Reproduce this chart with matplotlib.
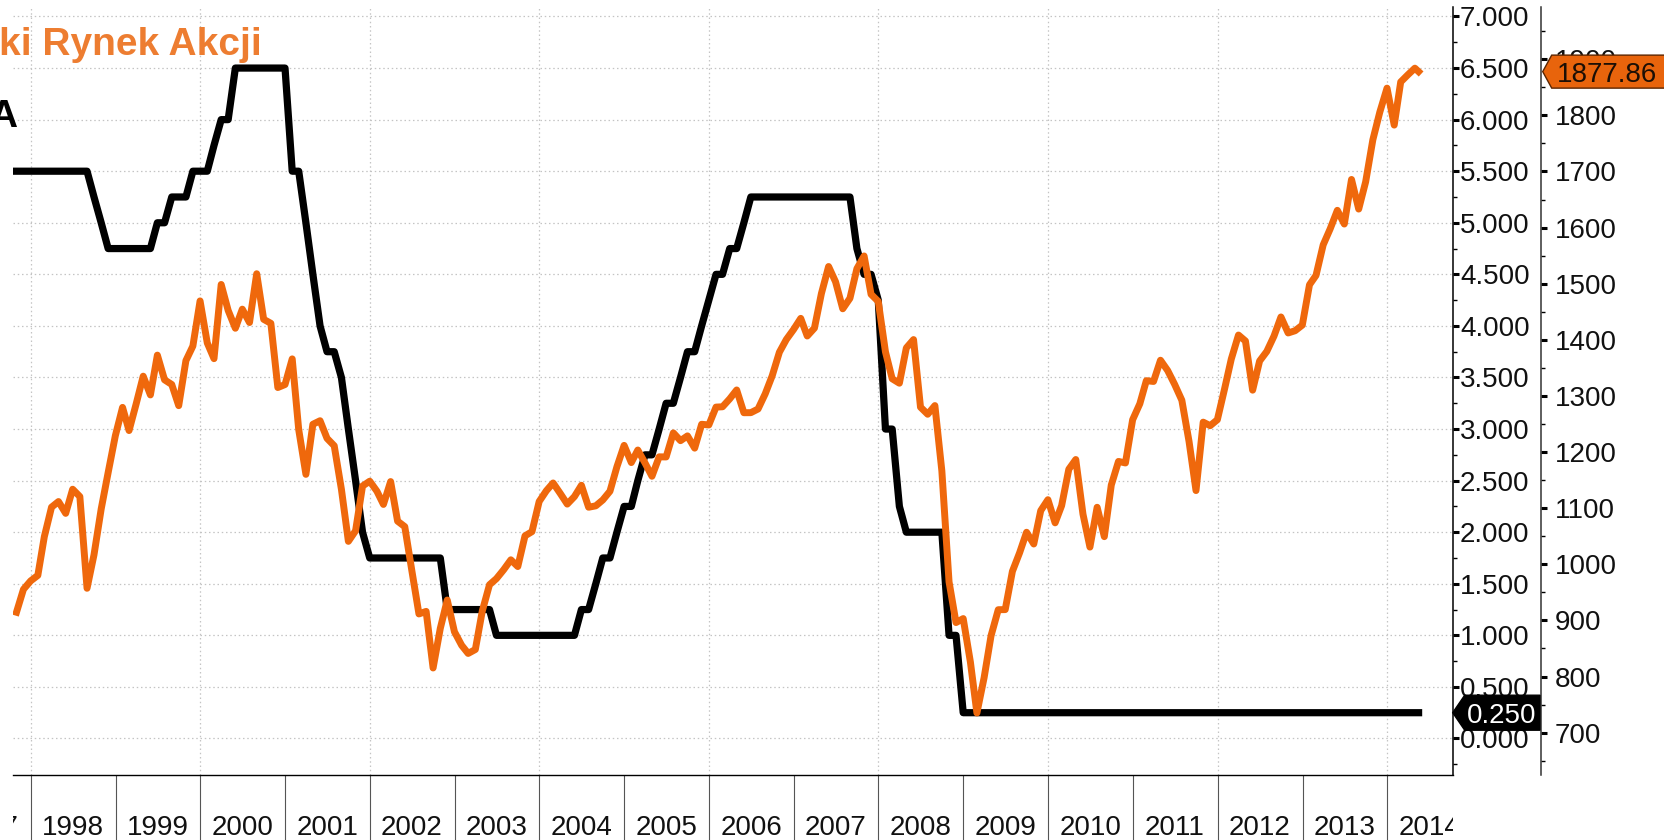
import numpy as np
import pandas as pd
import matplotlib
matplotlib.use("Agg")
import matplotlib.pyplot as plt
import matplotlib.dates as mdates
import matplotlib.transforms as mtransforms
from matplotlib.patches import Polygon

# --- dane miesięczne (koniec miesiąca), ostatni punkt: połowa maja 2014 ---
months = list(pd.date_range("1997-10-01", "2014-04-01", freq="MS") + pd.offsets.MonthEnd(0))
dates = months + [pd.Timestamp("2014-05-16")]

# stopa FED (górna granica celu), lewa oś
fed_rate = [
    5.5, 5.5, 5.5,                                                   # 1997 X-XII
    5.5, 5.5, 5.5, 5.5, 5.5, 5.5, 5.5, 5.5, 5.25, 5.0, 4.75, 4.75,   # 1998
    4.75, 4.75, 4.75, 4.75, 4.75, 5.0, 5.0, 5.25, 5.25, 5.25, 5.5, 5.5,  # 1999
    5.5, 5.75, 6.0, 6.0, 6.5, 6.5, 6.5, 6.5, 6.5, 6.5, 6.5, 6.5,     # 2000
    5.5, 5.5, 5.0, 4.5, 4.0, 3.75, 3.75, 3.5, 3.0, 2.5, 2.0, 1.75,   # 2001
    1.75, 1.75, 1.75, 1.75, 1.75, 1.75, 1.75, 1.75, 1.75, 1.75, 1.25, 1.25,  # 2002
    1.25, 1.25, 1.25, 1.25, 1.25, 1.0, 1.0, 1.0, 1.0, 1.0, 1.0, 1.0,  # 2003
    1.0, 1.0, 1.0, 1.0, 1.0, 1.25, 1.25, 1.5, 1.75, 1.75, 2.0, 2.25,  # 2004
    2.25, 2.5, 2.75, 2.75, 3.0, 3.25, 3.25, 3.5, 3.75, 3.75, 4.0, 4.25,  # 2005
    4.5, 4.5, 4.75, 4.75, 5.0, 5.25, 5.25, 5.25, 5.25, 5.25, 5.25, 5.25,  # 2006
    5.25, 5.25, 5.25, 5.25, 5.25, 5.25, 5.25, 5.25, 4.75, 4.5, 4.5, 4.25,  # 2007
    3.0, 3.0, 2.25, 2.0, 2.0, 2.0, 2.0, 2.0, 2.0, 1.0, 1.0, 0.25,    # 2008
    0.25, 0.25, 0.25, 0.25, 0.25, 0.25, 0.25, 0.25, 0.25, 0.25, 0.25, 0.25,  # 2009
    0.25, 0.25, 0.25, 0.25, 0.25, 0.25, 0.25, 0.25, 0.25, 0.25, 0.25, 0.25,  # 2010
    0.25, 0.25, 0.25, 0.25, 0.25, 0.25, 0.25, 0.25, 0.25, 0.25, 0.25, 0.25,  # 2011
    0.25, 0.25, 0.25, 0.25, 0.25, 0.25, 0.25, 0.25, 0.25, 0.25, 0.25, 0.25,  # 2012
    0.25, 0.25, 0.25, 0.25, 0.25, 0.25, 0.25, 0.25, 0.25, 0.25, 0.25, 0.25,  # 2013
    0.25, 0.25, 0.25, 0.25, 0.25,                                    # 2014
]

# S&P 500, prawa oś
spx = [
    914.6, 955.4, 970.4,
    980.3, 1049.3, 1101.8, 1111.8, 1090.8, 1133.8, 1120.7, 957.3, 1017.0, 1098.7, 1163.6, 1229.2,
    1279.6, 1238.3, 1286.4, 1335.2, 1301.8, 1372.7, 1328.7, 1320.4, 1282.7, 1362.9, 1388.9, 1469.3,
    1394.5, 1366.4, 1498.6, 1452.4, 1420.6, 1454.6, 1430.8, 1517.7, 1436.5, 1429.4, 1315.0, 1320.3,
    1366.0, 1239.9, 1160.3, 1249.5, 1255.8, 1224.4, 1211.2, 1133.6, 1040.9, 1059.8, 1139.5, 1148.1,
    1130.2, 1106.7, 1147.4, 1076.9, 1067.1, 989.8, 911.6, 916.1, 815.3, 885.8, 936.3, 879.8,
    855.7, 841.2, 848.2, 916.9, 963.6, 974.5, 990.3, 1008.0, 996.0, 1050.7, 1058.2, 1111.9,
    1131.1, 1144.9, 1126.2, 1107.3, 1120.7, 1140.8, 1101.7, 1104.2, 1114.6, 1130.2, 1173.8, 1211.9,
    1181.3, 1203.6, 1180.6, 1156.9, 1191.5, 1191.3, 1234.2, 1220.3, 1228.8, 1207.0, 1249.5, 1248.3,
    1280.1, 1280.7, 1294.8, 1310.6, 1270.1, 1270.2, 1276.7, 1303.8, 1335.9, 1377.9, 1400.6, 1418.3,
    1438.2, 1406.8, 1420.9, 1482.4, 1530.6, 1503.4, 1455.3, 1474.0, 1526.8, 1549.4, 1481.1, 1468.4,
    1378.6, 1330.6, 1322.7, 1385.6, 1400.4, 1280.0, 1267.4, 1282.8, 1166.4, 968.8, 896.2, 903.3,
    825.9, 735.1, 797.9, 872.8, 919.1, 919.3, 987.5, 1020.6, 1057.1, 1036.2, 1095.6, 1115.1,
    1073.9, 1104.5, 1169.4, 1186.7, 1089.4, 1030.7, 1101.6, 1049.3, 1141.2, 1183.3, 1180.6, 1257.6,
    1286.1, 1327.2, 1325.8, 1363.6, 1345.2, 1320.6, 1292.3, 1218.9, 1131.4, 1253.3, 1247.0, 1257.6,
    1312.4, 1365.7, 1408.5, 1397.9, 1310.3, 1362.2, 1379.3, 1406.6, 1440.7, 1412.2, 1416.2, 1426.2,
    1498.1, 1514.7, 1569.2, 1597.6, 1630.7, 1606.3, 1685.7, 1633.0, 1681.6, 1756.5, 1805.8, 1848.4,
    1782.6, 1859.5, 1872.3, 1884.0, 1877.86,
]

years = list(range(1997, 2015))
grid_years = list(range(1998, 2015, 2))
left_ticks = np.arange(0, 7.01, 0.5)
right_ticks = list(range(700, 1901, 100))

ORANGE = "#EF680C"
TITLE_ORANGE = "#ED7D31"

plt.rcParams["font.family"] = ["Liberation Sans", "DejaVu Sans"]

W, H = 1664, 840
fig = plt.figure(figsize=(W / 100, H / 100), dpi=100)
L, R, T, B = 13, 1452.7, 7, 775
ax = fig.add_axes([L / W, 1 - B / H, (R - L) / W, (B - T) / H])
ax2 = ax.twinx()

# linie
ax.plot(dates, fed_rate, color="black", lw=5.2, zorder=3)
ax2.plot(dates, spx, color=ORANGE, lw=5.0, zorder=3)

ax.set_xlim(pd.Timestamp("1997-10-16"), pd.Timestamp("2014-10-10"))
ax.set_ylim(-0.354, 7.092)
ax2.set_ylim(624.6, 1993)

# siatka
grid_kw = dict(color="#c4c4c4", lw=0.9, ls=(0, (1.2, 2.2)))
ax.yaxis.grid(True, which="major", **grid_kw)
for yr in grid_years:
    ax.axvline(pd.Timestamp(f"{yr}-01-01"), zorder=1, **grid_kw)

# spines
for s in ["top", "left"]:
    ax.spines[s].set_visible(False)
for s in ["top", "left", "bottom"]:
    ax2.spines[s].set_visible(False)
ax.spines["bottom"].set_linewidth(1.0)
ax.spines["right"].set_linewidth(1.1)
ax2.spines["right"].set_linewidth(1.1)
ax2.spines["right"].set_color("#333333")
ax2.spines["right"].set_position(("axes", (1541 - L) / (R - L)))

# oś X: separatory lat + etykiety w środku roku
ax.xaxis.set_major_locator(mdates.YearLocator())
ax.tick_params(axis="x", which="major", direction="out", length=50, width=0.8,
               color="#555555", labelbottom=False)
xlab_trans = mtransforms.blended_transform_factory(ax.transData, ax.transAxes)
clip = mtransforms.TransformedBbox(mtransforms.Bbox([[0, -1], [1, 1]]), ax.transAxes)
for yr in years:
    t = ax.text(pd.Timestamp(f"{yr}-07-01"), (B - 835) / (B - T), str(yr),
                transform=xlab_trans, ha="center", va="baseline",
                fontsize=20, color="#111111")
    t.set_clip_box(clip)
    t.set_clip_on(True)

# lewa oś (stopa FED) po prawej stronie wykresu
ax.yaxis.tick_right()
ax.set_yticks(left_ticks)
ax.set_yticks(np.arange(-0.25, 7.1, 0.5), minor=True)
ax.yaxis.set_major_formatter(plt.FuncFormatter(lambda v, p: f"{v:.3f}"))
ax.tick_params(axis="y", which="major", direction="out", length=4.5, width=2.2,
               pad=0.8, labelsize=20, labelcolor="#111111")
ax.tick_params(axis="y", which="minor", direction="out", length=3, width=1)

# prawa oś (S&P 500)
ax2.set_yticks(right_ticks)
ax2.set_yticks(list(range(650, 1951, 100)), minor=True)
ax2.tick_params(axis="y", which="major", direction="out", length=4.5, width=2.2,
                pad=5.5, labelsize=20, labelcolor="#111111")
ax2.tick_params(axis="y", which="minor", direction="out", length=3, width=1)


def value_tag(axis, value, x_tip, notch, x_end, half_h, label, face, edge, tcolor, text_x, ha):
    y = axis.transData.transform((0, value))[1]
    pts = [(x_tip, y), (x_tip + notch, y + half_h), (x_end, y + half_h),
           (x_end, y - half_h), (x_tip + notch, y - half_h)]
    fig.add_artist(Polygon(pts, closed=True, facecolor=face, edgecolor=edge, lw=1.0,
                           transform=mtransforms.IdentityTransform(), zorder=4))
    fig.text(text_x, y, label, transform=mtransforms.IdentityTransform(),
             ha=ha, va="center_baseline", fontsize=20, color=tcolor, zorder=5)


value_tag(ax2, spx[-1], 1542.7, 9, 1670, 16.5, f"{spx[-1]:.2f}",
          "#E8640C", "#5c2500", "#1c0f05", 1556.5, "left")
value_tag(ax, fed_rate[-1], 1452.7, 12, 1540, 17.5, f"{fed_rate[-1]:.3f}",
          "black", "black", "white", 1502, "center")

# tytuły (przycięte przez lewą krawędź)
fig.text(-1 / W, 1 - 55 / H, "ki Rynek Akcji", ha="left", va="baseline",
         fontsize=28, fontweight="bold", color=TITLE_ORANGE)
fig.text(17.5 / W, 1 - 126.7 / H, "A", ha="right", va="baseline",
         fontsize=28, fontweight="bold", color="black")

fig.savefig("out.png", dpi=100, facecolor="white")
